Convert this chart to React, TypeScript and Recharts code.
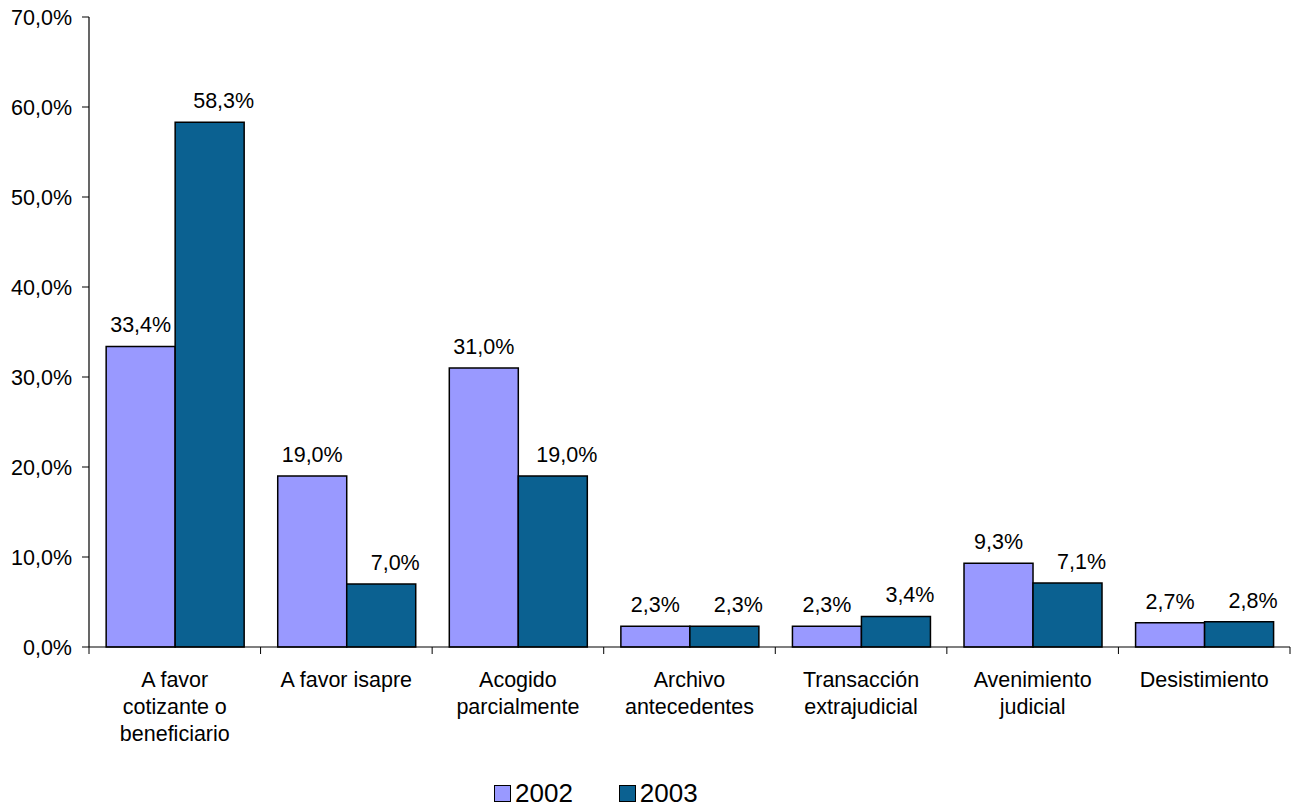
import React from 'react'
import { BarChart, Bar, XAxis, YAxis, LabelList } from 'recharts'

const categories = [
  'A favor cotizante o beneficiario',
  'A favor isapre',
  'Acogido parcialmente',
  'Archivo antecedentes',
  'Transacción extrajudicial',
  'Avenimiento judicial',
  'Desistimiento',
]
// saltos de línea tal como aparecen bajo el eje
const categoryLines = [
  ['A favor', 'cotizante o', 'beneficiario'],
  ['A favor isapre'],
  ['Acogido', 'parcialmente'],
  ['Archivo', 'antecedentes'],
  ['Transacción', 'extrajudicial'],
  ['Avenimiento', 'judicial'],
  ['Desistimiento'],
]
const values2002 = [33.4, 19.0, 31.0, 2.3, 2.3, 9.3, 2.7]
const values2003 = [58.3, 7.0, 19.0, 2.3, 3.4, 7.1, 2.8]
const yTicks = [0, 10, 20, 30, 40, 50, 60, 70]

const data = categories.map((name, i) => ({
  name,
  idx: i,
  y2002: values2002[i],
  y2003: values2003[i],
}))

const FONT = '"Liberation Sans", Arial, sans-serif'
const COLOR_2002 = '#9999FF'
const COLOR_2003 = '#0B6191'

const fmt = (v: number) => v.toFixed(1).replace('.', ',') + '%'

const CategoryTick = (props: any) => {
  const { x, y, payload, index } = props
  const lines = categoryLines[index] || [payload.value]
  const band = (1290 - 89) / categories.length
  return (
    <g>
      <line x1={x - band / 2} y1={y - 8} x2={x - band / 2} y2={y - 1} stroke="#000" />
      {index === categories.length - 1 && (
        <line x1={x + band / 2} y1={y - 8} x2={x + band / 2} y2={y - 1} stroke="#000" />
      )}
      {lines.map((l: string, k: number) => (
        <text key={k} x={x} y={y + 25 + k * 27} textAnchor="middle" dominantBaseline="central" fontSize={21.5} fill="#000" fontFamily={FONT}>
          {l}
        </text>
      ))}
    </g>
  )
}

const LegendBox = () => (
  <div style={{ position: 'absolute', left: 494, top: 778, display: 'flex', fontFamily: FONT, fontSize: 26 }}>
    {[['2002', COLOR_2002], ['2003', COLOR_2003]].map(([label, color], i) => (
      <div key={label} style={{ display: 'flex', alignItems: 'center', marginLeft: i ? 46 : 0 }}>
        <span style={{ width: 15, height: 15, background: color, border: '1.5px solid #000', display: 'inline-block', marginRight: 4 }} />
        <span>{label}</span>
      </div>
    ))}
  </div>
)

export default function App() {
  return (
    <div style={{ position: 'absolute', left: 0, top: 0, width: 1298, height: 810, background: '#fff' }}>
      <BarChart
        width={1298}
        height={810}
        data={data}
        margin={{ top: 17, right: 8, left: 0, bottom: 63 }}
        barCategoryGap="10%"
        barGap={0}
      >
        <XAxis
          dataKey="name"
          interval={0}
          height={100}
          tickLine={false}
          axisLine={{ stroke: '#000', strokeWidth: 1.2 }}
          tick={<CategoryTick />}
        />
        <YAxis
          width={89}
          domain={[0, 70]}
          ticks={yTicks}
          tickFormatter={fmt}
          tickSize={7}
          tickMargin={10}
          axisLine={{ stroke: '#000', strokeWidth: 1.2 }}
          tickLine={{ stroke: '#000' }}
          tick={{ fill: '#000', fontSize: 21.5, fontFamily: FONT }}
        />
        <Bar dataKey="y2002" fill={COLOR_2002} stroke="#000" strokeWidth={1.5} isAnimationActive={false}>
          <LabelList dataKey="y2002" position="top" offset={14} formatter={(v: any) => fmt(Number(v))} fill="#000" fontSize={21.5} fontFamily={FONT} />
        </Bar>
        <Bar dataKey="y2003" fill={COLOR_2003} stroke="#000" strokeWidth={1.5} isAnimationActive={false}>
          <LabelList dataKey="y2003" position="top" offset={14} dx={14} formatter={(v: any) => fmt(Number(v))} fill="#000" fontSize={21.5} fontFamily={FONT} />
        </Bar>
      </BarChart>
      <LegendBox />
    </div>
  )
}
